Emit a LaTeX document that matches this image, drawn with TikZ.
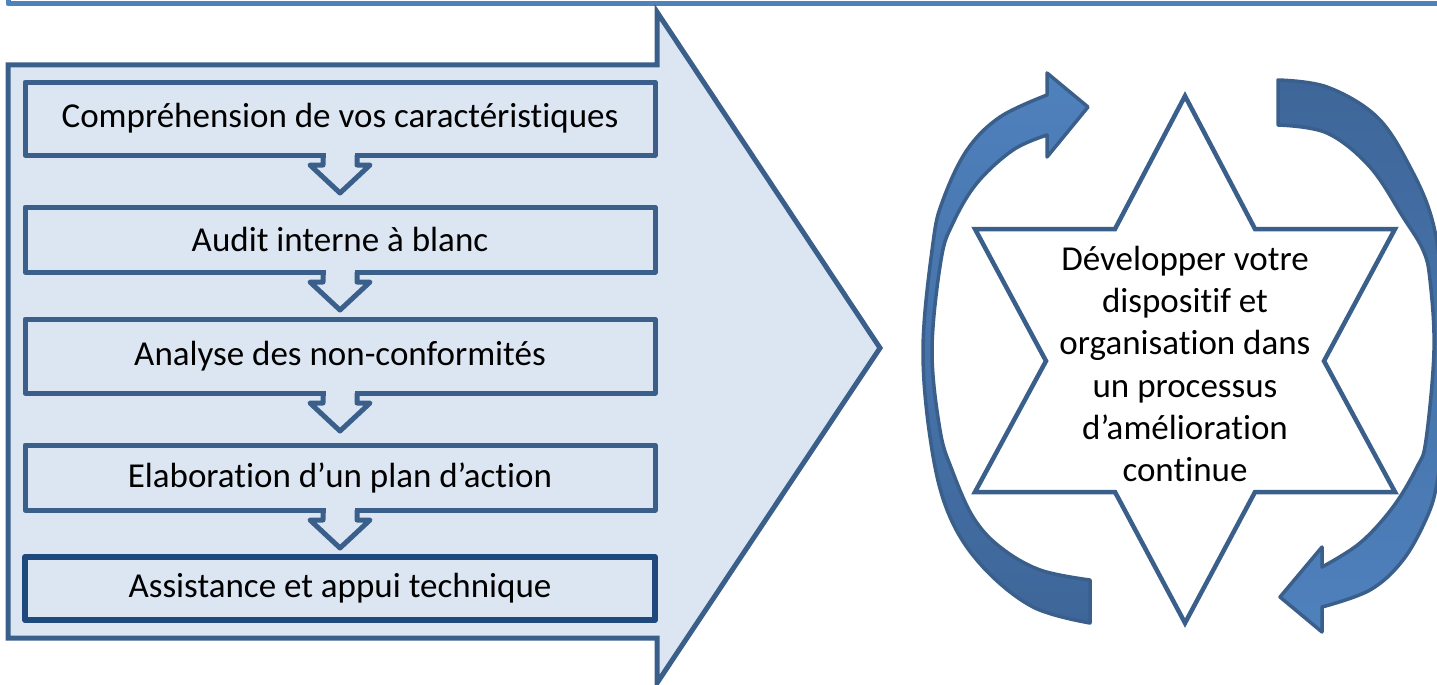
\documentclass[tikz,border=0pt]{standalone}
\usepackage{fontspec}
\setmainfont{Carlito}[RawFeature={-liga;-clig;-calt;-dlig}]
\usetikzlibrary{calc}
\newcommand{\nolig}{\kern0pt}
\definecolor{linec}{HTML}{3A5F8B}
\definecolor{fillc}{HTML}{DCE6F2}
\definecolor{darkline}{HTML}{1F497D}
\definecolor{topline}{HTML}{4F81BD}
\definecolor{arrlight}{HTML}{4F81BD}
\definecolor{arrdark}{HTML}{3E6699}
\begin{document}
\begin{tikzpicture}[x=1pt,y=-1pt,
  stepbox/.style={draw=linec, line width=5pt, fill=fillc, rectangle,
    minimum width=630pt, inner sep=0pt, outer sep=0pt,
    font=\fontsize{35}{42}\selectfont, line join=round},
  chev/.style={draw=linec, line width=5pt, line join=round},
  bigarrow/.style={draw=linec, line width=5pt, fill=fillc},
  circarrow/.style={draw=linec, line width=3.5pt, line join=round},
  starline/.style={draw=linec, line width=4.5pt, fill=white, line join=miter},
  startext/.style={align=center, font=\fontsize{35}{42.2}\selectfont, inner sep=0pt}
]
\useasboundingbox (0,0) rectangle (1437,685);
\clip (0,0) rectangle (1437,685);

% top frame line
\draw[topline, line width=5pt, line join=round] (8,-20) -- (8,4) -- (1460,4);

% big arrow
\draw[bigarrow] (8,65) -- (657,65) -- (657,12) -- (880,348) -- (657,683) -- (657,638) -- (8,638) -- cycle;

% boxes
\node[stepbox, minimum height=73pt] (b1) at (340,118.5) {Compréhension de vos caractérist\nolig iques};
\node[stepbox, minimum height=65pt] (b2) at (340,239.5) {Audit interne à blanc};
\node[stepbox, minimum height=74pt] (b3) at (340,356) {Analyse des non-conformités};
\node[stepbox, minimum height=65pt] (b4) at (340,477.5) {Elaborat\nolig ion d’un plan d’act\nolig ion};
\node[stepbox, draw=darkline, line width=6pt, minimum height=63pt] (b5) at (340,588.5) {Assistance et appui technique};

% chevrons
\foreach \b in {b1,b2,b3,b4}{
  \fill[fillc] ($(\b.south)+(-14.5,-2.8)$) rectangle ($(\b.south)+(14.5,2.8)$);
  \draw[chev] ($(\b.south)+(-17,0)$) -- ($(\b.south)+(-17,10)$) -- ($(\b.south)+(-30,10)$)
    -- ($(\b.south)+(0,38)$) -- ($(\b.south)+(30,10)$) -- ($(\b.south)+(17,10)$) -- ($(\b.south)+(17,0)$);
}

% star
\draw[starline] (1185,96) -- (1255,229) -- (1395,229) -- (1324,361) -- (1395,492) -- (1255,492)
  -- (1185,623) -- (1115,492) -- (975,492) -- (1046,361) -- (975,229) -- (1115,229) -- cycle;
\node[startext] (st) at (1185,364) {Développer votre\\disposit\nolig if et\\organisat\nolig ion dans\\un processus\\d’améliorat\nolig ion\\cont\nolig inue};

% left circular arrow
\path[circarrow, top color=arrlight, bottom color=arrdark]
  (1090,580) -- (1090,623)
  -- plot[smooth, tension=0.6] coordinates {(1090,623) (1033,607) (983,567) (950,517) (932,450) (923,350) (933,243) (943,200) (967,150) (1000,117) (1047,95)}
  -- (1047,73) -- (1088,107) -- (1047,157) -- (1047,135)
  -- plot[smooth, tension=0.6] coordinates {(1047,135) (1013,150) (977,183) (953,223) (941,260) (932,350) (940,430) (952,470) (973,517) (1000,547) (1040,570) (1090,580)}
  -- cycle;

% right circular arrow
\path[circarrow, top color=arrdark, bottom color=arrlight]
  (1278,125) -- (1278,80)
  -- plot[smooth, tension=0.6] coordinates {(1278,80) (1327,87) (1377,117) (1410,167) (1433,223) (1444,300) (1446,360) (1443,430) (1437,483) (1427,517) (1403,560) (1370,590) (1322,607)}
  -- (1322,632) -- (1280,597) -- (1322,547) -- (1322,567)
  -- plot[smooth, tension=0.6] coordinates {(1322,567) (1360,543) (1393,507) (1417,467) (1426,440) (1434,350) (1430,280) (1423,250) (1403,217) (1370,167) (1327,133) (1278,125)}
  -- cycle;
\end{tikzpicture}
\end{document}
